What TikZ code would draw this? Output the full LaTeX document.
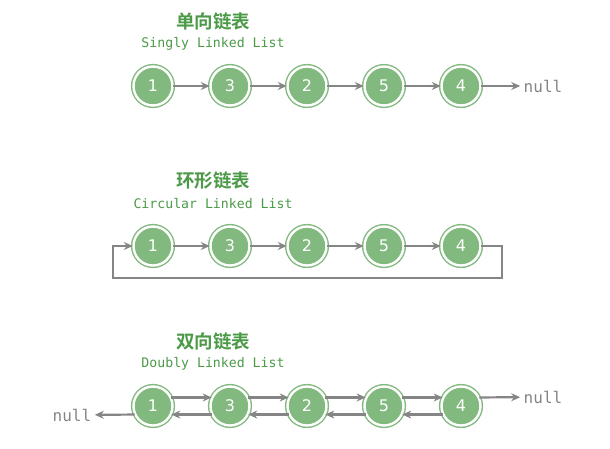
\documentclass[tikz,border=0pt]{standalone}
\usepackage{fontspec}
\setmainfont{DejaVu Sans}
\newfontfamily\cjkfont{Noto Sans CJK SC}[BoldFont={Noto Sans CJK SC Bold}]
\newfontfamily\monofont{DejaVu Sans Mono}
\usetikzlibrary{arrows.meta}
\definecolor{ngreen}{HTML}{82B97F}
\definecolor{tgreen}{HTML}{4C9A48}
\definecolor{agray}{HTML}{858585}
\tikzset{
  lnode/.style={circle, fill=ngreen, draw=ngreen, double=white, double distance=2.4pt,
    line width=1.4pt, minimum size=39pt, inner sep=0pt, text=white,
    font=\fontsize{16}{16}\selectfont},
  link/.style={draw=agray, line width=2.2pt, -{Stealth[length=9pt,width=8pt]}},
  title/.style={text=tgreen, font=\cjkfont\bfseries\fontsize{18.5}{18.5}\selectfont},
  subtitle/.style={text=tgreen, font=\monofont\fontsize{13.2}{13.2}\selectfont},
  nulltext/.style={text=agray, font=\monofont\fontsize{16}{16}\selectfont}
}
\begin{document}
\begin{tikzpicture}[x=1pt,y=-1pt]
\useasboundingbox (0,0) rectangle (610,448);
% Singly
\node[title] (t1) at (213,21) {单向链表};
\node[subtitle] (s1) at (213,44) {Singly Linked List};
\node[lnode] (a1) at (153,86) {1};
\node[lnode] (a2) at (230,86) {3};
\node[lnode] (a3) at (307,86) {2};
\node[lnode] (a4) at (384,86) {5};
\node[lnode] (a5) at (461,86) {4};
\node[nulltext] (an) at (543,86) {null};
\foreach \i/\j in {a1/a2,a2/a3,a3/a4,a4/a5} \draw[link] (\i) -- (\j);
\draw[link] (a5) -- (an);
% Circular
\node[title] (t2) at (213,181) {环形链表};
\node[subtitle] (s2) at (213,204) {Circular Linked List};
\node[lnode] (b1) at (153,246) {1};
\node[lnode] (b2) at (230,246) {3};
\node[lnode] (b3) at (307,246) {2};
\node[lnode] (b4) at (384,246) {5};
\node[lnode] (b5) at (461,246) {4};
\foreach \i/\j in {b1/b2,b2/b3,b3/b4,b4/b5} \draw[link] (\i) -- (\j);
\coordinate (c1) at (502,246);
\coordinate (c2) at (502,278);
\coordinate (c3) at (113,278);
\coordinate (c4) at (113,246);
\draw[link] (b5) -- (c1) -- (c2) -- (c3) -- (c4) -- (b1);
% Doubly
\node[title] (t3) at (213,341) {双向链表};
\node[subtitle] (s3) at (213,364) {Doubly Linked List};
\node[lnode] (d1) at (153,406) {1};
\node[lnode] (d2) at (230,406) {3};
\node[lnode] (d3) at (307,406) {2};
\node[lnode] (d4) at (384,406) {5};
\node[lnode] (d5) at (461,406) {4};
\foreach \i/\j in {d1/d2,d2/d3,d3/d4,d4/d5} {
  \draw[link] (\i.25) -- (\j.155);
  \draw[link] (\j.-155) -- (\i.-25);
}
\node[nulltext] (dl) at (72,415) {null};
\node[nulltext] (dr) at (543,397) {null};
\draw[link] (d1.-155) -- (dl);
\draw[link] (d5.25) -- (dr);
\end{tikzpicture}
\end{document}
